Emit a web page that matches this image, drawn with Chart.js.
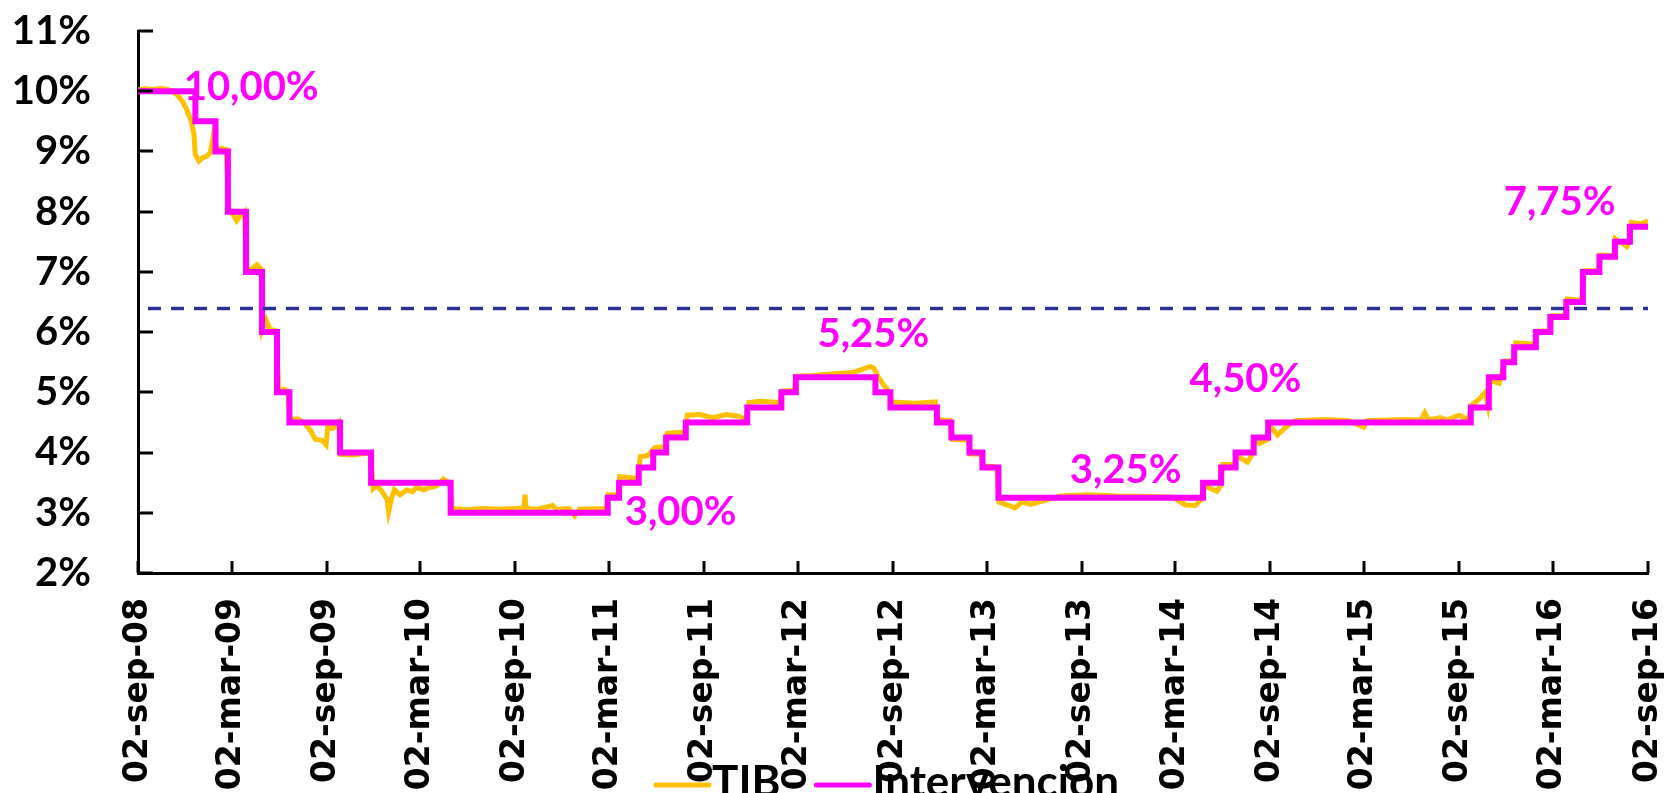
<!DOCTYPE html>
<html>
<head>
<meta charset="utf-8">
<title>TIB e Intervencion</title>
<script src="https://cdn.jsdelivr.net/npm/chart.js@4/dist/chart.umd.min.js"></script>
<style>
  html, body { margin: 0; padding: 0; background: #fff; overflow: hidden; }
  #wrap { position: relative; width: 1672px; height: 793px; }
</style>
</head>
<body>
<div id="wrap"><canvas id="tasas"></canvas></div>
<script>
// x axis: days counted from 02-sep-08
const TICK_DATES = [
  "2008-09-02", "2009-03-02", "2009-09-02", "2010-03-02", "2010-09-02",
  "2011-03-02", "2011-09-02", "2012-03-02", "2012-09-02", "2013-03-02",
  "2013-09-02", "2014-03-02", "2014-09-02", "2015-03-02", "2015-09-02",
  "2016-03-02", "2016-09-02",
];
const TICK_LABELS = [
  "02-sep-08", "02-mar-09", "02-sep-09", "02-mar-10", "02-sep-10",
  "02-mar-11", "02-sep-11", "02-mar-12", "02-sep-12", "02-mar-13",
  "02-sep-13", "02-mar-14", "02-sep-14", "02-mar-15", "02-sep-15",
  "02-mar-16", "02-sep-16",
];
const Y_MIN = 2;
const Y_MAX = 11;

// tasa de intervencion (step changes)
const INTER_DATES = [
  "2008-09-02", "2008-12-22", "2009-01-30", "2009-02-23", "2009-03-30",
  "2009-04-30", "2009-05-29", "2009-06-22", "2009-09-28", "2009-11-27",
  "2010-04-30", "2011-02-28", "2011-03-22", "2011-04-29", "2011-05-27",
  "2011-06-21", "2011-07-29", "2011-11-25", "2012-01-30", "2012-02-27",
  "2012-07-30", "2012-08-28", "2012-11-26", "2012-12-24", "2013-01-28",
  "2013-02-22", "2013-03-25", "2014-04-25", "2014-05-30", "2014-06-27",
  "2014-08-01", "2014-08-29", "2015-09-25", "2015-10-30", "2015-11-27",
  "2015-12-18", "2016-01-29", "2016-02-26", "2016-03-28", "2016-04-29",
  "2016-05-31", "2016-06-30", "2016-07-29", "2016-09-02",
];
const INTER_VALUES = [
  10.00, 9.50, 9.00, 8.00, 7.00,
  6.00, 5.00, 4.50, 4.00, 3.50,
  3.00, 3.25, 3.50, 3.75, 4.00,
  4.25, 4.50, 4.75, 5.00, 5.25,
  5.00, 4.75, 4.50, 4.25, 4.00,
  3.75, 3.25, 3.50, 3.75, 4.00,
  4.25, 4.50, 4.75, 5.25, 5.50,
  5.75, 6.00, 6.25, 6.50, 7.00,
  7.25, 7.50, 7.75, 7.75,
];

// TIB (interbancaria)
const TIB_DATES = [
  "2008-09-02", "2008-09-16", "2008-10-01", "2008-10-15", "2008-10-29", "2008-11-06", "2008-11-17", "2008-11-28", "2008-12-06", "2008-12-14", "2008-12-19", "2008-12-22", "2008-12-29",
  "2009-01-06", "2009-01-13", "2009-01-20", "2009-01-26", "2009-02-02", "2009-02-12", "2009-02-20", "2009-02-24", "2009-03-05", "2009-03-12", "2009-03-20", "2009-03-27", "2009-03-31",
  "2009-04-10", "2009-04-20", "2009-04-28", "2009-05-01", "2009-05-08", "2009-05-15", "2009-05-28", "2009-06-01", "2009-06-12", "2009-06-19", "2009-06-23", "2009-07-08", "2009-07-20",
  "2009-08-03", "2009-08-11", "2009-08-25", "2009-09-01", "2009-09-04", "2009-09-14", "2009-09-25", "2009-09-29", "2009-10-20", "2009-11-10", "2009-11-26", "2009-12-01", "2009-12-08",
  "2009-12-17", "2009-12-28", "2009-12-31", "2010-01-06", "2010-01-11", "2010-01-22", "2010-02-04", "2010-02-15", "2010-02-23", "2010-03-08", "2010-03-21", "2010-04-03", "2010-04-16",
  "2010-04-28", "2010-05-03", "2010-06-01", "2010-07-01", "2010-08-01", "2010-09-01", "2010-09-19", "2010-09-21", "2010-09-23", "2010-10-15", "2010-11-13", "2010-11-20", "2010-12-15",
  "2010-12-26", "2011-01-04", "2011-02-25", "2011-03-01", "2011-03-20", "2011-03-23", "2011-04-15", "2011-04-27", "2011-05-02", "2011-05-16", "2011-05-25", "2011-05-30", "2011-06-19",
  "2011-06-23", "2011-07-27", "2011-08-01", "2011-08-25", "2011-09-20", "2011-10-15", "2011-11-10", "2011-11-23", "2011-11-28", "2011-12-20", "2012-01-27", "2012-02-01", "2012-02-24",
  "2012-02-28", "2012-04-01", "2012-05-10", "2012-06-15", "2012-07-05", "2012-07-20", "2012-07-27", "2012-08-05", "2012-08-15", "2012-08-27", "2012-08-30", "2012-10-15", "2012-11-23",
  "2012-11-27", "2012-12-21", "2012-12-26", "2013-01-25", "2013-01-29", "2013-02-20", "2013-02-23", "2013-03-22", "2013-03-26", "2013-04-26", "2013-05-10", "2013-05-25", "2013-06-20",
  "2013-07-22", "2013-09-15", "2013-11-10", "2014-01-15", "2014-02-25", "2014-03-22", "2014-04-10", "2014-04-22", "2014-04-26", "2014-05-22", "2014-05-29", "2014-06-02", "2014-06-25",
  "2014-06-28", "2014-07-20", "2014-07-30", "2014-08-02", "2014-08-12", "2014-08-28", "2014-09-01", "2014-09-16", "2014-10-02", "2014-10-20", "2014-12-15", "2015-02-01", "2015-03-02",
  "2015-03-08", "2015-05-15", "2015-06-20", "2015-06-28", "2015-07-05", "2015-07-28", "2015-08-10", "2015-09-02", "2015-09-20", "2015-09-28", "2015-10-13", "2015-10-23", "2015-10-28",
  "2015-11-02", "2015-11-19", "2015-11-30", "2015-12-17", "2015-12-21", "2016-01-28", "2016-02-01", "2016-02-25", "2016-02-29", "2016-03-25", "2016-03-30", "2016-04-27", "2016-05-02",
  "2016-05-30", "2016-06-01", "2016-06-29", "2016-07-01", "2016-07-23", "2016-07-28", "2016-08-01", "2016-08-20", "2016-09-02",
];
const TIB_VALUES = [
  10.02, 10.04, 10.03, 10.05, 10.03, 10.00, 9.94, 9.82, 9.68, 9.50, 9.30, 8.95, 8.84,
  8.90, 8.92, 8.98, 9.28, 9.02, 9.05, 9.03, 8.02, 7.95, 7.85, 7.95, 8.00, 7.02,
  7.05, 7.12, 7.05, 6.05, 6.20, 6.05, 6.02, 5.03, 5.05, 5.02, 4.55, 4.56, 4.50,
  4.35, 4.22, 4.20, 4.13, 4.42, 4.40, 4.50, 3.97, 3.96, 3.98, 3.99, 3.40, 3.45,
  3.37, 3.22, 3.02, 3.25, 3.38, 3.30, 3.38, 3.35, 3.42, 3.38, 3.42, 3.45, 3.56,
  3.50, 3.07, 3.05, 3.07, 3.06, 3.07, 3.08, 3.30, 3.07, 3.06, 3.12, 3.06, 3.07,
  2.95, 3.06, 3.07, 3.30, 3.30, 3.60, 3.58, 3.57, 3.93, 3.95, 4.03, 4.08, 4.10,
  4.32, 4.34, 4.62, 4.63, 4.58, 4.63, 4.60, 4.55, 4.83, 4.85, 4.83, 5.02, 5.03,
  5.27, 5.28, 5.31, 5.33, 5.38, 5.43, 5.40, 5.25, 5.12, 5.00, 4.84, 4.82, 4.84,
  4.55, 4.53, 4.22, 4.21, 3.98, 3.97, 3.78, 3.76, 3.18, 3.08, 3.18, 3.14, 3.20,
  3.28, 3.30, 3.28, 3.27, 3.26, 3.13, 3.12, 3.22, 3.45, 3.36, 3.45, 3.80, 3.80,
  3.95, 3.84, 3.98, 4.22, 4.15, 4.22, 4.45, 4.29, 4.42, 4.53, 4.55, 4.53, 4.42,
  4.53, 4.55, 4.54, 4.66, 4.54, 4.58, 4.54, 4.62, 4.55, 4.80, 4.90, 5.00, 4.80,
  5.20, 5.15, 5.52, 5.52, 5.82, 5.80, 6.02, 6.02, 6.27, 6.27, 6.55, 6.53, 7.02,
  7.02, 7.28, 7.27, 7.55, 7.42, 7.50, 7.82, 7.80, 7.85,
];

// horizontal reference level
const REF_LEVEL = 6.39;

// rate callouts: value shown, where the text sits (date, baseline level)
const CALLOUT_VALUES = [10.00, 3.00, 5.25, 3.25, 4.50, 7.75];
const CALLOUT_DATES = ["2009-04-09", "2011-07-19", "2012-07-26", "2013-11-26", "2014-07-16", "2016-03-15"];
const CALLOUT_LEVELS = [9.86, 2.80, 5.75, 3.49, 5.00, 7.945];

const DAY0 = Date.UTC(2008, 8, 2);
function dayOf(iso) {
  const [y, m, d] = iso.split("-").map(Number);
  return Math.round((Date.UTC(y, m - 1, d) - DAY0) / 86400000);
}
const tickDays = TICK_DATES.map(dayOf);
const X_MAX = tickDays[tickDays.length - 1];

const toPoints = (dates, values) => dates.map((d, i) => ({ x: dayOf(d), y: values[i] }));

const BLACK = "#000000";
const GOLD = "#FFC000";
const MAGENTA = "#FF00FF";
const NAVY = "#2E3192";

// tick marks drawn inside the plot, as in the source workbook
const innerTicks = {
  id: "innerTicks",
  afterDraw(chart) {
    const { ctx, chartArea, scales } = chart;
    ctx.save();
    ctx.strokeStyle = BLACK;
    ctx.lineWidth = 3;
    ctx.beginPath();
    scales.y.ticks.forEach((t) => {
      const y = Math.round(scales.y.getPixelForValue(t.value));
      ctx.moveTo(chartArea.left, y);
      ctx.lineTo(chartArea.left + 15, y);
    });
    scales.x.ticks.forEach((t) => {
      const x = Math.round(scales.x.getPixelForValue(t.value));
      ctx.moveTo(x, chartArea.bottom);
      ctx.lineTo(x, chartArea.bottom - 12);
    });
    ctx.stroke();
    ctx.restore();
  },
};

const callouts = {
  id: "callouts",
  afterDatasetsDraw(chart) {
    const { ctx, scales } = chart;
    ctx.save();
    ctx.font = "bold 40px Lato";
    ctx.fillStyle = MAGENTA;
    ctx.textAlign = "center";
    ctx.textBaseline = "alphabetic";
    CALLOUT_VALUES.forEach((v, i) => {
      const x = scales.x.getPixelForValue(dayOf(CALLOUT_DATES[i]));
      const y = scales.y.getPixelForValue(CALLOUT_LEVELS[i]);
      ctx.fillText(v.toFixed(2).replace(".", ",") + "%", x, y);
    });
    ctx.restore();
  },
};

// legend sits low over the date labels and runs off the bottom edge
const bottomLegend = {
  id: "bottomLegend",
  afterDraw(chart) {
    const ctx = chart.ctx;
    ctx.save();
    ctx.font = "bold 44px Lato";
    ctx.textBaseline = "alphabetic";
    ctx.textAlign = "left";
    let x = 656;
    const lineY = 785;
    chart.data.datasets.forEach((ds) => {
      if (!ds.label) return;
      ctx.strokeStyle = ds.borderColor;
      ctx.lineWidth = 5;
      ctx.lineCap = "round";
      ctx.beginPath();
      ctx.moveTo(x, lineY);
      ctx.lineTo(x + 53, lineY);
      ctx.stroke();
      ctx.fillStyle = BLACK;
      ctx.fillText(ds.label, x + 56, 797);
      x += 56 + ctx.measureText(ds.label).width + 36;
    });
    ctx.restore();
  },
};

new Chart(document.getElementById("tasas"), {
  type: "line",
  data: {
    datasets: [
      {
        label: "TIB",
        data: toPoints(TIB_DATES, TIB_VALUES),
        borderColor: GOLD,
        borderWidth: 5,
        pointRadius: 0,
        order: 2,
      },
      {
        label: "Intervencion",
        data: toPoints(INTER_DATES, INTER_VALUES),
        borderColor: MAGENTA,
        borderWidth: 6,
        stepped: true,
        borderJoinStyle: "miter",
        pointRadius: 0,
        order: 1,
      },
      {
        data: [{ x: 0, y: REF_LEVEL }, { x: X_MAX, y: REF_LEVEL }],
        borderColor: NAVY,
        borderWidth: 3.5,
        borderDash: [13, 10],
        borderDashOffset: 13,
        pointRadius: 0,
        order: 0,
      },
    ],
  },
  options: {
    responsive: true,
    maintainAspectRatio: false,
    animation: false,
    layout: { padding: { top: 31, right: 24, bottom: 0, left: 0 } },
    plugins: { legend: { display: false }, tooltip: { enabled: false } },
    scales: {
      x: {
        type: "linear",
        min: 0,
        max: X_MAX,
        afterBuildTicks: (scale) => {
          scale.ticks = tickDays.map((v) => ({ value: v }));
        },
        afterFit: (scale) => {
          scale.height = 220;
        },
        // invisible tick length only spaces the labels away from the axis
        grid: { display: false, drawTicks: true, tickLength: 23 },
        border: { display: true, color: BLACK, width: 3 },
        ticks: {
          autoSkip: false,
          minRotation: 90,
          maxRotation: 90,
          padding: 2,
          color: BLACK,
          font: { family: "DejaVu Sans", weight: "bold", size: 33, lineHeight: 0.6 },
          callback: (value, index) => TICK_LABELS[index],
        },
      },
      y: {
        min: Y_MIN,
        max: Y_MAX,
        afterFit: (scale) => {
          scale.width = 138;
        },
        grid: { display: false, drawTicks: true, tickLength: 44 },
        border: { display: true, color: BLACK, width: 3 },
        ticks: {
          stepSize: 1,
          padding: 3,
          color: BLACK,
          font: { family: "Lato", weight: "bold", size: 40 },
          callback: (v) => v + "%",
        },
      },
    },
  },
  plugins: [innerTicks, callouts, bottomLegend],
});
</script>
</body>
</html>
